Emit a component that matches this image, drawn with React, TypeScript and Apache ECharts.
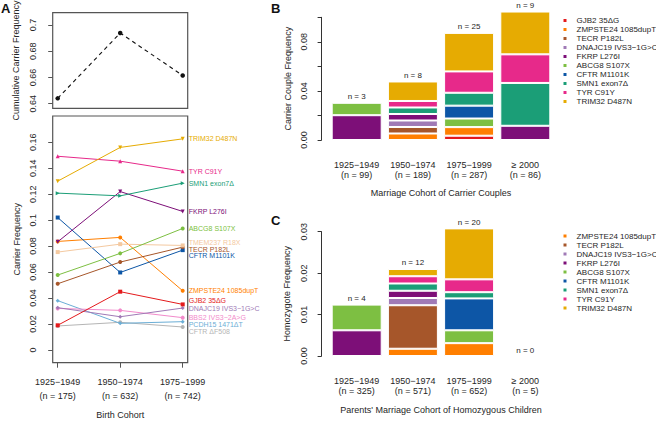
import React, { useEffect, useRef } from 'react';
import * as echarts from 'echarts';

const FONT = '"Liberation Sans", Arial, Helvetica, sans-serif';
const TXT = '#262626';
const FRAME = '#555555';

// ---------- Panel A data ----------
const birthCohorts = ['1925−1949', '1950−1974', '1975−1999'];
const birthN = [175, 632, 742];
const cumulativeFreq = [0.6441, 0.6939, 0.6615];

const variantsA = [
  'TRIM32 D487N', 'TYR C91Y', 'SMN1 exon7Δ', 'FKRP L276I', 'ABCG8 S107X',
  'TMEM237 R18X', 'TECR P182L', 'CFTR M1101K', 'ZMPSTE24 1085dupT', 'GJB2 35ΔG',
  'DNAJC19 IVS3−1G>C', 'BBS2 IVS3−2A>G', 'PCDH15 1471ΔT', 'CFTR ΔF508',
];
const aTRIM32 = [0.130, 0.156, 0.1626];
const aTYR = [0.1492, 0.1454, 0.1377];
const aSMN1 = [0.1208, 0.1187, 0.1285];
const aFKRP = [0.0833, 0.122, 0.1067];
const aABCG8 = [0.0577, 0.0744, 0.0936];
const aTMEM237 = [0.0754, 0.0815, 0.0805];
const aTECR = [0.051, 0.0677, 0.0792];
const aCFTRM = [0.102, 0.0597, 0.0769];
const aZMPSTE24 = [0.0836, 0.0867, 0.0456];
const aGJB2 = [0.019, 0.0449, 0.0351];
const aDNAJC19 = [0.0326, 0.0256, 0.0323];
const aBBS2 = [0.032, 0.0305, 0.0249];
const aPCDH15 = [0.038, 0.0205, 0.0218];
const aDF508 = [0.0185, 0.0213, 0.0177];
const freqA = [aTRIM32, aTYR, aSMN1, aFKRP, aABCG8, aTMEM237, aTECR, aCFTRM, aZMPSTE24, aGJB2, aDNAJC19, aBBS2, aPCDH15, aDF508];
const ticksCum = [0.64, 0.66, 0.68, 0.70];
const ticksCarrier = [0, 0.02, 0.04, 0.06, 0.08, 0.1, 0.12, 0.14, 0.16];

// ---------- Panel B data ----------
const marriageCohorts = ['1925−1949', '1950−1974', '1975−1999', '≥ 2000'];
const couplesN = [99, 189, 287, 86];
const carrierCouplesN = [3, 8, 25, 9];
const variantsB = [
  'GJB2 35ΔG', 'ZMPSTE24 1085dupT', 'TECR P182L', 'DNAJC19 IVS3−1G>C', 'FKRP L276I',
  'ABCG8 S107X', 'CFTR M1101K', 'SMN1 exon7Δ', 'TYR C91Y', 'TRIM32 D487N',
];
const bGJB2 = [0, 0, 0.0035, 0];
const bZMPSTE24 = [0, 0.0053, 0.0070, 0];
const bTECR = [0, 0.0053, 0, 0];
const bDNAJC19 = [0, 0.0053, 0, 0];
const bFKRP = [0.0202, 0.0053, 0, 0.0116];
const bABCG8 = [0.0101, 0, 0.0070, 0];
const bCFTRM = [0, 0, 0.0105, 0];
const bSMN1 = [0, 0.0053, 0.0105, 0.0349];
const bTYR = [0, 0.0053, 0.0174, 0.0233];
const bTRIM32 = [0, 0.0159, 0.0314, 0.0349];
const freqB = [bGJB2, bZMPSTE24, bTECR, bDNAJC19, bFKRP, bABCG8, bCFTRM, bSMN1, bTYR, bTRIM32];

// ---------- Panel C data ----------
const childrenN = [325, 571, 652, 5];
const homozygousN = [4, 12, 20, 0];
const variantsC = [
  'ZMPSTE24 1085dupT', 'TECR P182L', 'DNAJC19 IVS3−1G>C', 'FKRP L276I',
  'ABCG8 S107X', 'CFTR M1101K', 'SMN1 exon7Δ', 'TYR C91Y', 'TRIM32 D487N',
];
const cZMPSTE24 = [0, 0.00175, 0.0031, 0];
const cTECR = [0, 0.0105, 0, 0];
const cDNAJC19 = [0, 0.00175, 0, 0];
const cFKRP = [0.0062, 0.00175, 0, 0];
const cABCG8 = [0.0062, 0, 0.0031, 0];
const cCFTRM = [0, 0, 0.0077, 0];
const cSMN1 = [0, 0.00175, 0.0015, 0];
const cTYR = [0, 0.00175, 0.0031, 0];
const cTRIM32 = [0, 0.00175, 0.0123, 0];
const freqC = [cZMPSTE24, cTECR, cDNAJC19, cFKRP, cABCG8, cCFTRM, cSMN1, cTYR, cTRIM32];

// ---------- styles ----------
const COLORS: Record<string, string> = {
  'GJB2 35ΔG': '#E41A1C',
  'ZMPSTE24 1085dupT': '#FF7F00',
  'TECR P182L': '#A6562A',
  'DNAJC19 IVS3−1G>C': '#A07AB6',
  'FKRP L276I': '#7D0F78',
  'ABCG8 S107X': '#7DBF42',
  'CFTR M1101K': '#0D56A6',
  'SMN1 exon7Δ': '#1B9E77',
  'TYR C91Y': '#E7298A',
  'TRIM32 D487N': '#E6AB02',
  'TMEM237 R18X': '#F4C9A0',
  'BBS2 IVS3−2A>G': '#F28ACB',
  'PCDH15 1471ΔT': '#6BAED6',
  'CFTR ΔF508': '#B5B5B5',
};
const labelShiftA = [0, 0, 0, 0, 0, -3, 2, 5, 0, -4, 0, 0, 2.5, 4.7];
const symbolA = ['triangle', 'triangle', 'triangle', 'triangle', 'circle', 'rect', 'circle', 'rect', 'circle', 'rect', 'diamond', 'circle', 'diamond', 'circle'];
const symbolRotA = [180, 0, -90, 180, 0, 0, 0, 0, 0, 0, 0, 0, 0, 0];

const textBase = { fontFamily: FONT, color: TXT };

function buildOption() {
  const seriesA: any[] = variantsA.map((name, i) => {
    const color = COLORS[name];
    return {
      type: 'line',
      name: 'A:' + name,
      xAxisIndex: 1,
      yAxisIndex: 1,
      data: freqA[i].map((v, j) => [j + 1, v]),
      symbol: symbolA[i],
      symbolSize: 4,
      symbolRotate: symbolRotA[i],
      lineStyle: { color, width: 1 },
      itemStyle: { color },
      z: 20 - i,
      endLabel: {
        show: true,
        formatter: name,
        color,
        fontSize: 7,
        fontFamily: FONT,
        distance: 6,
        offset: [0, labelShiftA[i]],
      },
    };
  });

  const cumSeries = {
    type: 'line',
    name: 'A:cumulative',
    xAxisIndex: 0,
    yAxisIndex: 0,
    data: cumulativeFreq.map((v, j) => [j + 1, v]),
    symbol: 'circle',
    symbolSize: 4.5,
    lineStyle: { color: '#111', width: 1.1, type: [4, 3.5] },
    itemStyle: { color: '#111' },
  };

  const barSeries = (names: string[], freq: number[][], stack: string, axis: number) =>
    names.map((name, i) => ({
      type: 'bar',
      name,
      stack,
      xAxisIndex: axis,
      yAxisIndex: axis,
      barWidth: 50,
      barGap: '-100%',
      clip: false,
      data: freq[i].map((v) => (v === 0 ? null : v)),
      itemStyle: { color: COLORS[name], borderColor: '#ffffff', borderWidth: 1 },
    }));

  const totals = (freq: number[][]) =>
    freq[0].map((_, j) => freq.reduce((s, arr) => s + arr[j], 0));

  const totalSeries = (freq: number[][], counts: number[], axis: number, id: string) => ({
    type: 'bar',
    name: id,
    xAxisIndex: axis,
    yAxisIndex: axis,
    barWidth: 50,
    barGap: '-100%',
    clip: false,
    silent: true,
    data: totals(freq),
    itemStyle: { color: 'rgba(0,0,0,0)' },
    label: {
      show: true,
      position: 'top',
      distance: 2,
      fontSize: 8,
      fontFamily: FONT,
      color: TXT,
      formatter: (p: any) => 'n = ' + counts[p.dataIndex],
    },
    z: 5,
  });

  const yLabelBase = { rotate: 90, fontSize: 9, ...textBase };
  const nameStyle = { fontSize: 9, ...textBase };

  const legendBase = {
    orient: 'vertical',
    icon: 'rect',
    itemWidth: 5,
    itemHeight: 5,
    itemGap: 0,
    padding: 0,
    selectedMode: false,
    textStyle: { fontSize: 8, lineHeight: 9, padding: [0, 0, 0, 4], ...textBase },
  };

  return {
    animation: false,
    textStyle: { fontFamily: FONT },
    grid: [
      { left: 52.7, top: 12.7, width: 135, height: 95.6, show: true, borderColor: FRAME, borderWidth: 1.2, outerBoundsMode: 'none' },
      { left: 52.7, top: 116, width: 135, height: 246.7, show: true, borderColor: FRAME, borderWidth: 1.2, outerBoundsMode: 'none' },
      { left: 328.6, top: 17.3, width: 224.8, height: 122.7, outerBoundsMode: 'none' },
      { left: 328.6, top: 231.7, width: 224.8, height: 124.3, outerBoundsMode: 'none' },
    ],
    xAxis: [
      { type: 'value', gridIndex: 0, min: 0.92, max: 3.08, show: false },
      {
        type: 'value', gridIndex: 1, min: 0.92, max: 3.08,
        axisLine: { show: false, onZero: false },
        axisTick: { show: true, customValues: [1, 2, 3], length: 5, lineStyle: { color: FRAME } },
        axisLabel: {
          customValues: [1, 2, 3], fontSize: 9, lineHeight: 13.7, margin: 12.8, ...textBase,
          formatter: (v: number) => {
            const i = Math.round(v) - 1;
            return birthCohorts[i] + '\n(n = ' + birthN[i] + ')';
          },
        },
        splitLine: { show: false },
        name: 'Birth Cohort', nameLocation: 'middle', nameGap: 47.8, nameTextStyle: nameStyle,
      },
      {
        type: 'category', gridIndex: 2,
        data: marriageCohorts.map((c, i) => c + '\n(n = ' + couplesN[i] + ')'),
        axisLine: { show: false, onZero: false },
        axisTick: { show: false },
        axisLabel: { interval: 0, fontSize: 9, lineHeight: 10, margin: 19.5, ...textBase },
        name: 'Marriage Cohort of Carrier Couples', nameLocation: 'middle', nameGap: 48.5, nameTextStyle: nameStyle,
      },
      {
        type: 'category', gridIndex: 3,
        data: marriageCohorts.map((c, i) => c + '\n(n = ' + childrenN[i] + ')'),
        axisLine: { show: false, onZero: false },
        axisTick: { show: false },
        axisLabel: { interval: 0, fontSize: 9, lineHeight: 10, margin: 20.3, ...textBase },
        name: "Parents' Marriage Cohort of Homozygous Children", nameLocation: 'middle', nameGap: 49.5, nameTextStyle: nameStyle,
      },
    ],
    yAxis: [
      {
        type: 'value', gridIndex: 0, min: 0.6365, max: 0.7094,
        axisLine: { show: false, onZero: false },
        axisTick: { show: true, customValues: ticksCum, length: 4.5, lineStyle: { color: FRAME } },
        axisLabel: { customValues: ticksCum, margin: 15, ...yLabelBase },
        splitLine: { show: false },
        name: 'Cumulative Carrier Frequency', nameLocation: 'middle', nameGap: 32.5, nameTextStyle: nameStyle,
      },
      {
        type: 'value', gridIndex: 1, min: -0.0098, max: 0.1802,
        axisLine: { show: false, onZero: false },
        axisTick: { show: true, customValues: ticksCarrier, length: 4.5, lineStyle: { color: FRAME } },
        axisLabel: { customValues: ticksCarrier, margin: 15, ...yLabelBase },
        splitLine: { show: false },
        name: 'Carrier Frequency', nameLocation: 'middle', nameGap: 31, nameTextStyle: nameStyle,
      },
      {
        type: 'value', gridIndex: 2, min: 0, max: 0.1, interval: 0.02, offset: 7,
        axisLine: { show: true, onZero: false, lineStyle: { color: '#333', width: 1 } },
        axisTick: { show: true, length: 4, lineStyle: { color: '#333' } },
        axisLabel: {
          margin: 13.5, ...yLabelBase,
          formatter: (v: number) => {
            const k = Math.round(v * 100);
            return k % 4 === 0 && k < 10 ? v.toFixed(2) : '';
          },
        },
        splitLine: { show: false },
        name: 'Carrier Couple Frequency', nameLocation: 'middle', nameGap: 29, nameTextStyle: nameStyle,
      },
      {
        type: 'value', gridIndex: 3, min: 0, max: 0.03, interval: 0.01, offset: 7,
        axisLine: { show: true, onZero: false, lineStyle: { color: '#333', width: 1 } },
        axisTick: { show: true, length: 4, lineStyle: { color: '#333' } },
        axisLabel: { margin: 13.5, ...yLabelBase, formatter: (v: number) => v.toFixed(2) },
        splitLine: { show: false },
        name: 'Homozygote Frequency', nameLocation: 'middle', nameGap: 30, nameTextStyle: nameStyle,
      },
    ],
    legend: [
      { ...legendBase, left: 561.5, top: 16, data: variantsB },
      { ...legendBase, left: 561.5, top: 231.5, data: variantsC },
    ],
    graphic: [
      { type: 'text', left: 1, top: 2, style: { text: 'A', font: 'bold 13px ' + FONT, fill: '#111' } },
      { type: 'text', left: 271, top: 2, style: { text: 'B', font: 'bold 13px ' + FONT, fill: '#111' } },
      { type: 'text', left: 271, top: 214, style: { text: 'C', font: 'bold 13px ' + FONT, fill: '#111' } },
    ],
    series: [
      cumSeries,
      ...seriesA,
      ...barSeries(variantsB, freqB, 'B', 2),
      totalSeries(freqB, carrierCouplesN, 2, '__totalB'),
      ...barSeries(variantsC, freqC, 'C', 3),
      totalSeries(freqC, homozygousN, 3, '__totalC'),
    ],
  };
}

export default function App() {
  const ref = useRef<HTMLDivElement>(null);
  useEffect(() => {
    const chart = echarts.init(ref.current!, null, { renderer: 'svg' });
    chart.setOption(buildOption() as any);
    return () => chart.dispose();
  }, []);
  return (
    <div
      ref={ref}
      style={{ position: 'absolute', left: 0, top: 0, width: 656, height: 421, background: '#fff' }}
    />
  );
}
